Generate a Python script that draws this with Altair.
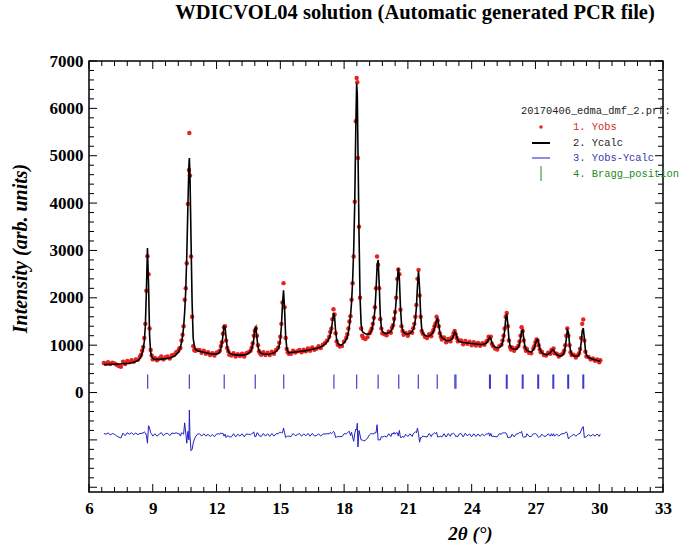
import altair as alt
import numpy as np
import pandas as pd

# ---------------- data ----------------
two_theta = [
    6.7, 6.8, 6.9, 7.0, 7.1, 7.2, 7.3, 7.4, 7.5, 7.6, 7.7, 7.8, 7.9, 8.0, 8.1, 8.2, 8.3, 8.4,
    8.45, 8.5, 8.55, 8.6, 8.65, 8.7, 8.75, 8.8, 8.85, 8.9, 8.95, 9.0, 9.1,
    9.2, 9.3, 9.4, 9.5, 9.6, 9.7, 9.8, 9.9, 10.0, 10.1, 10.2,
    10.25, 10.3, 10.35, 10.4, 10.45, 10.5, 10.55, 10.6, 10.65, 10.7, 10.72, 10.75, 10.8, 10.85, 10.9, 10.95, 11.0, 11.1,
    11.2, 11.3, 11.4, 11.5, 11.6, 11.7, 11.8, 11.9, 12.0, 12.1,
    12.15, 12.2, 12.25, 12.3, 12.35, 12.4, 12.45, 12.5, 12.55, 12.6,
    12.7, 12.8, 12.9, 13.0, 13.1, 13.2, 13.3, 13.4, 13.5,
    13.6, 13.65, 13.7, 13.75, 13.8, 13.85, 13.9, 13.95, 14.0, 14.05,
    14.1, 14.2, 14.3, 14.4, 14.5, 14.6, 14.7, 14.8,
    14.9, 14.95, 15.0, 15.05, 15.1, 15.15, 15.2, 15.25, 15.3, 15.35, 15.4,
    15.5, 15.6, 15.7, 15.8, 15.9, 16.0, 16.1, 16.2, 16.3, 16.4, 16.5, 16.6, 16.7, 16.8, 16.9, 17.0, 17.1, 17.2,
    17.3, 17.35, 17.4, 17.45, 17.5, 17.55, 17.6, 17.65, 17.7, 17.8,
    17.9, 18.0, 18.1, 18.15, 18.2, 18.25,
    18.3, 18.35, 18.4, 18.45, 18.5, 18.55, 18.59, 18.62, 18.65, 18.7, 18.75, 18.8, 18.85, 18.9, 19.0,
    19.1, 19.2, 19.25, 19.3, 19.35,
    19.4, 19.45, 19.5, 19.55, 19.6, 19.65, 19.7, 19.75, 19.8, 19.9,
    20.0, 20.1, 20.2, 20.25,
    20.3, 20.35, 20.4, 20.45, 20.5, 20.55, 20.6, 20.65, 20.7, 20.75, 20.8, 20.9,
    21.0, 21.1, 21.2, 21.25,
    21.3, 21.35, 21.4, 21.45, 21.5, 21.55, 21.6, 21.65, 21.7, 21.8,
    21.9, 22.0, 22.1, 22.15,
    22.2, 22.25, 22.3, 22.35, 22.4, 22.45, 22.5, 22.55, 22.6, 22.7,
    22.8, 22.9, 23.0, 23.05,
    23.1, 23.15, 23.2, 23.25, 23.3, 23.35, 23.4,
    23.5, 23.6, 23.7, 23.8, 23.9, 24.0, 24.1, 24.2, 24.3, 24.4, 24.5, 24.6,
    24.7, 24.75, 24.8, 24.85, 24.9, 24.95, 25.0, 25.1,
    25.2, 25.3, 25.4, 25.45,
    25.5, 25.55, 25.6, 25.65, 25.7, 25.75, 25.8, 25.85, 25.9, 26.0,
    26.1, 26.2, 26.25, 26.3, 26.35, 26.4, 26.45, 26.5, 26.55, 26.6, 26.7,
    26.8, 26.9, 26.95, 27.0, 27.05, 27.1, 27.15, 27.2, 27.25, 27.3, 27.4,
    27.5, 27.6, 27.7, 27.75, 27.8, 27.85, 27.9, 28.0, 28.1, 28.2,
    28.3, 28.35, 28.4, 28.45, 28.5, 28.55, 28.6, 28.65, 28.7, 28.8, 28.9,
    29.0, 29.05, 29.1, 29.15, 29.2, 29.25, 29.3, 29.35, 29.4, 29.5, 29.6,
    29.7, 29.8, 29.9, 30.0, 30.05,
]

y_calc = [
    590, 590, 592, 594, 596, 598, 600, 602, 604, 607, 610, 614, 620, 628, 640, 655, 680, 720,
    770, 830, 920, 1080, 1400, 2150, 3050, 2300, 1200, 850, 760, 720, 700,
    700, 700, 705, 710, 715, 722, 730, 745, 765, 800, 850,
    900, 960, 1050, 1180, 1380, 1700, 2150, 2900, 3900, 4800, 4950, 4600, 3200, 1900, 1150, 1000, 920, 880,
    870, 860, 850, 840, 830, 820, 815, 812, 815, 830,
    860, 930, 1030, 1200, 1400, 1380, 1150, 960, 880, 840,
    815, 800, 795, 790, 790, 790, 795, 805, 830,
    870, 920, 1000, 1130, 1330, 1380, 1150, 960, 880, 845,
    830, 815, 810, 810, 815, 825, 840, 870,
    920, 990, 1120, 1400, 1850, 2160, 1750, 1200, 950, 870, 840,
    850, 850, 855, 860, 866, 872, 878, 885, 893, 902, 912, 922, 933, 946, 962, 985, 1020, 1070,
    1150, 1220, 1320, 1500, 1680, 1600, 1300, 1120, 1040, 1000,
    1010, 1050, 1120, 1180, 1280, 1420,
    1620, 1900, 2350, 3000, 4000, 5600, 6530, 6300, 5200, 3400, 2000, 1450, 1300, 1270, 1240,
    1230, 1240, 1270, 1320, 1420,
    1550, 1750, 2150, 2650, 2800, 2300, 1650, 1380, 1290, 1250,
    1250, 1260, 1290, 1330,
    1400, 1500, 1680, 1950, 2350, 2620, 2400, 1800, 1450, 1320, 1270, 1240,
    1230, 1250, 1290, 1330,
    1400, 1530, 1800, 2250, 2560, 2200, 1650, 1350, 1260, 1210,
    1190, 1195, 1220, 1250,
    1290, 1350, 1430, 1540, 1560, 1430, 1280, 1200, 1160, 1130,
    1100, 1095, 1105, 1120,
    1150, 1210, 1280, 1260, 1170, 1110, 1080,
    1065, 1055, 1050, 1045, 1040, 1035, 1030, 1025, 1020, 1015, 1015, 1025,
    1050, 1080, 1130, 1170, 1140, 1060, 1000, 960,
    945, 950, 990, 1050,
    1150, 1300, 1550, 1660, 1450, 1150, 1000, 950, 930, 915,
    915, 960, 1020, 1150, 1300, 1320, 1150, 980, 920, 890, 865,
    860, 900, 950, 1030, 1100, 1120, 1050, 940, 870, 840, 815,
    800, 810, 840, 870, 905, 900, 850, 800, 780, 775,
    800, 850, 950, 1130, 1320, 1280, 1050, 880, 810, 775, 765,
    770, 800, 880, 1050, 1300, 1360, 1150, 900, 790, 740, 720,
    705, 690, 675, 665, 660,
]

y_obs = [
    625, 610, 640, 600, 630, 615, 585, 560, 545, 650, 600, 665, 640, 680, 650, 700, 690, 760,
    800, 880, 960, 1150, 1450, 2150, 2880, 2500, 1350, 900, 780, 700, 730,
    680, 720, 760, 700, 745, 760, 720, 790, 800, 850, 880,
    930, 940, 1100, 1220, 1400, 1960, 2200, 2730, 3980, 4700, 5480, 4580, 2870, 1600, 980, 900, 880, 900,
    900, 840, 880, 820, 850, 790, 830, 780, 840, 860,
    880, 980, 1060, 1240, 1380, 1400, 1100, 940, 870, 800,
    780, 830, 760, 810, 770, 820, 760, 830, 850,
    880, 950, 1040, 1200, 1300, 1350, 1200, 1000, 870, 830,
    800, 850, 790, 840, 790, 860, 820, 900,
    950, 1050, 1180, 1450, 1900, 2310, 1800, 1150, 920, 850, 820,
    820, 885, 845, 870, 900, 850, 905, 870, 930, 880, 950, 905, 925, 975, 940, 1010, 1045, 1100,
    1180, 1280, 1350, 1550, 1760, 1650, 1250, 1080, 1010, 970,
    980, 1080, 1150, 1230, 1350, 1500,
    1610, 1960, 2310, 2870, 4030, 5730, 6640, 6550, 4950, 3500, 2000, 1350, 1200, 1150, 1130,
    1170, 1250, 1300, 1350, 1450,
    1580, 1800, 2200, 2870, 2700, 2200, 1550, 1350, 1250, 1230,
    1210, 1290, 1260, 1370,
    1420, 1560, 1700, 2000, 2400, 2600, 2500, 1750, 1400, 1300, 1220, 1260,
    1200, 1280, 1260, 1360,
    1450, 1600, 1850, 2400, 2590, 2050, 1600, 1300, 1240, 1180,
    1150, 1230, 1190, 1270,
    1320, 1400, 1460, 1600, 1520, 1400, 1250, 1180, 1120, 1160,
    1060, 1130, 1080, 1150,
    1180, 1250, 1300, 1230, 1150, 1080, 1100,
    1100, 1020, 1090, 1030, 1070, 1000, 1060, 995, 1045, 990, 1040, 1010,
    1080, 1100, 1180, 1150, 1180, 1030, 980, 930,
    910, 980, 1010, 1100,
    1200, 1350, 1600, 1680, 1400, 1100, 960, 910, 950, 880,
    940, 990, 1080, 1200, 1380, 1300, 1100, 950, 880, 920, 840,
    830, 930, 980, 1060, 1120, 1100, 1000, 910, 850, 860, 790,
    780, 840, 820, 900, 890, 930, 830, 820, 760, 800,
    830, 880, 1000, 1200, 1350, 1200, 1000, 850, 790, 800, 740,
    790, 830, 920, 1150, 1450, 1540, 1100, 860, 760, 750, 700,
    720, 670, 700, 640, 680,
]

bragg_positions = [
    8.76, 10.72, 12.36, 13.82, 15.16, 17.52, 18.59, 19.60, 20.57, 21.49, 22.38,
    23.21, 23.26, 24.84, 24.88, 25.63, 25.67, 26.38, 26.42, 27.11, 27.15,
    27.82, 27.86, 28.52, 28.56, 29.23, 29.27,
]

x_ticks = [6, 9, 12, 15, 18, 21, 24, 27, 30, 33]
y_ticks = [0, 1000, 2000, 3000, 4000, 5000, 6000, 7000]

title_text = "WDICVOL04 solution (Automatic generated PCR file)"
legend_header = "20170406_edma_dmf_2.prf:"
legend_labels = ["1. Yobs", "2. Ycalc", "3. Yobs-Ycalc", "4. Bragg_position"]

assert len(two_theta) == len(y_calc) == len(y_obs)

# ---------------- styling ----------------
W, H = 574, 431
SERIF = "Liberation Serif"
MONO = "Liberation Mono"
RED = "#e8221e"
BLUE = "#1f1fc4"
GREEN = "#238a23"
DIFF_OFFSET = -900
LEG_FS = 10.4

df = pd.DataFrame({"tt": two_theta, "obs": y_obs, "calc": y_calc})
df["diff"] = df["obs"] - df["calc"] + DIFF_OFFSET
bragg = pd.DataFrame({"pos": bragg_positions})
one = pd.DataFrame({"k": [0]})

xs = alt.Scale(domain=[6, 33], nice=False, zero=False)
ys = alt.Scale(domain=[-2100, 7000], nice=False, zero=False)

x_axis = alt.Axis(values=x_ticks, format="d", ticks=False, tickSize=0, domain=False, grid=False,
                  labelFont=SERIF, labelFontSize=17, labelFontWeight="bold", labelColor="black",
                  labelPadding=8, labelFlush=False, labelOverlap=False,
                  title="2θ (°)", titleFont=SERIF, titleFontSize=19, titleFontStyle="italic",
                  titleFontWeight="bold", titleColor="black", titleX=381, titleY=41,
                  titleAlign="center", titleBaseline="middle")
y_axis = alt.Axis(values=y_ticks, format="d", ticks=False, tickSize=0, domain=False, grid=False,
                  labelFont=SERIF, labelFontSize=17, labelFontWeight="bold", labelColor="black",
                  labelPadding=6, labelOverlap=False,
                  title="Intensity (arb. units)", titleFont=SERIF, titleFontSize=20,
                  titleFontStyle="italic", titleFontWeight="bold", titleColor="black",
                  titleAngle=270, titleX=-69, titleY=187, titleAlign="center", titleBaseline="middle")

X = lambda f: alt.X(f, type="quantitative", scale=xs, axis=x_axis)
Y = lambda f: alt.Y(f, type="quantitative", scale=ys, axis=y_axis)

base = alt.Chart(df)
obs_layer = base.mark_circle(size=20, color=RED, opacity=1).encode(x=X("tt"), y=Y("obs"))
calc_layer = base.mark_line(color="black", strokeWidth=1.6).encode(x=X("tt"), y=Y("calc"))
diff_layer = base.mark_line(color=BLUE, strokeWidth=1).encode(x=X("tt"), y=Y("diff"))
bragg_layer = alt.Chart(bragg).mark_rule(color=BLUE, strokeWidth=1.2, opacity=0.85).encode(
    x=X("pos"),
    y=alt.Y(datum=380, scale=ys, axis=y_axis),
    y2=alt.Y2(datum=80),
)

# inward ticks on all four sides
x_minor = [v for v in np.round(np.arange(6, 33.001, 0.6), 2) if v not in x_ticks]
y_minor = [v for v in range(-2000, 7001, 200) if v % 1000 != 0]
y_major = list(range(-2000, 7001, 1000))


def xticks(values, length):
    d = alt.Chart(pd.DataFrame({"v": values}))
    bottom = d.mark_rule(color="black", strokeWidth=1).encode(x=X("v"), y=alt.value(H), y2=alt.value(H - length))
    top = d.mark_rule(color="black", strokeWidth=1).encode(x=X("v"), y=alt.value(0), y2=alt.value(length))
    return [bottom, top]


def yticks(values, length):
    d = alt.Chart(pd.DataFrame({"v": values}))
    left = d.mark_rule(color="black", strokeWidth=1).encode(y=Y("v"), x=alt.value(0), x2=alt.value(length))
    right = d.mark_rule(color="black", strokeWidth=1).encode(y=Y("v"), x=alt.value(W), x2=alt.value(W - length))
    return [left, right]


tick_layers = xticks(x_ticks, 8) + xticks(x_minor, 5) + yticks(y_major, 8) + yticks(y_minor, 5)

# legend (single-row data so each element is drawn once)
leg_colors = ["#cc2a2a", "#222222", "#3535b0", GREEN]
leg_y = [66, 82, 97, 113]
legend_layers = [
    alt.Chart(one).mark_text(text=legend_header, font=MONO, fontSize=LEG_FS, align="left",
                             baseline="middle", color="#222222").encode(x=alt.value(432), y=alt.value(50))
]
for lab, col, yy in zip(legend_labels, leg_colors, leg_y):
    legend_layers.append(
        alt.Chart(one).mark_text(text=lab, font=MONO, fontSize=LEG_FS, align="left", baseline="middle",
                                 color=col).encode(x=alt.value(484), y=alt.value(yy))
    )
legend_layers += [
    alt.Chart(one).mark_point(filled=True, shape="circle", size=12, color=RED, opacity=1).encode(
        x=alt.value(452), y=alt.value(66)),
    alt.Chart(one).mark_rule(color="black", strokeWidth=2).encode(
        x=alt.value(443), x2=alt.value(461), y=alt.value(82)),
    alt.Chart(one).mark_rule(color=BLUE, strokeWidth=1).encode(
        x=alt.value(443), x2=alt.value(461), y=alt.value(97)),
    alt.Chart(one).mark_rule(color=GREEN, strokeWidth=1).encode(
        x=alt.value(452), y=alt.value(105), y2=alt.value(120)),
]

chart = alt.layer(
    obs_layer, calc_layer, diff_layer, bragg_layer, *tick_layers, *legend_layers
).properties(
    width=W,
    height=H,
    padding={"left": 89, "top": 61, "right": 20, "bottom": 53},
    autosize=alt.AutoSizeParams(type="none"),
    title=alt.TitleParams(text=title_text, font=SERIF, fontSize=20.5, fontWeight="bold",
                          color="black", anchor="middle", dx=39, offset=29),
    background="white",
).configure_view(stroke="black", strokeWidth=1.5)

chart.save("out.html", embed_options={"renderer": "svg", "actions": False})
